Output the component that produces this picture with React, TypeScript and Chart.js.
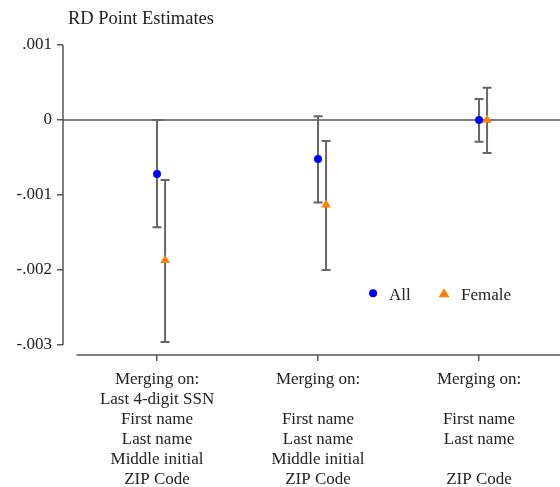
import React, { useEffect, useRef } from "react";
import { Chart, registerables } from "chart.js";
Chart.register(...registerables);

const titleText = "RD Point Estimates";
const categories = [1, 2, 3];
const categoryLabels: string[][] = [
  ["Merging on:", "Last 4-digit SSN", "First name", "Last name", "Middle initial", "ZIP Code"],
  ["Merging on:", "", "First name", "Last name", "Middle initial", "ZIP Code"],
  ["Merging on:", "", "First name", "Last name", "", "ZIP Code"],
];
const allEstimates = [-0.00072, -0.00052, 0.0];
const allLower = [-0.00143, -0.0011, -0.00029];
const allUpper = [0.0, 0.00005, 0.00028];
const femaleEstimates = [-0.00187, -0.00113, 0.0];
const femaleLower = [-0.00296, -0.002, -0.00044];
const femaleUpper = [-0.0008, -0.00028, 0.00043];
const femaleOffset = 0.05;
const yTicks = [-0.003, -0.002, -0.001, 0, 0.001];
const yTickLabels = ["-.003", "-.002", "-.001", "0", ".001"];
const legendLabels = ["All", "Female"];

const FONT = "'Liberation Serif', 'Times New Roman', serif";
const AXIS = "#555555";
const BAR = "#666666";

export default function App() {
  const ref = useRef<HTMLCanvasElement | null>(null);
  useEffect(() => {
    document.body.style.margin = "0";
    const canvas = ref.current!;
    const decor = {
      id: "decor",
      beforeDatasetsDraw(chart: any) {
        const { ctx, chartArea, scales } = chart;
        const xs = scales.x, ys = scales.y;
        ctx.save();
        ctx.strokeStyle = AXIS;
        ctx.lineWidth = 1.5;
        const y0 = ys.getPixelForValue(0);
        ctx.beginPath();
        ctx.moveTo(chartArea.left, y0);
        ctx.lineTo(chartArea.right, y0);
        ctx.stroke();
        // y axis line
        ctx.beginPath();
        ctx.moveTo(chartArea.left, ys.getPixelForValue(yTicks[yTicks.length - 1]));
        ctx.lineTo(chartArea.left, ys.getPixelForValue(yTicks[0]));
        ctx.stroke();
        // x axis line
        ctx.beginPath();
        ctx.moveTo(xs.getPixelForValue(0.5), chartArea.bottom);
        ctx.lineTo(chartArea.right, chartArea.bottom);
        ctx.stroke();
        // error bars
        ctx.strokeStyle = BAR;
        ctx.lineWidth = 2;
        const cap = 4.5;
        const drawBar = (xv: number, lo: number, hi: number) => {
          const px = xs.getPixelForValue(xv);
          const pl = ys.getPixelForValue(lo);
          const ph = ys.getPixelForValue(hi);
          ctx.beginPath();
          ctx.moveTo(px, pl);
          ctx.lineTo(px, ph);
          ctx.moveTo(px - cap, pl);
          ctx.lineTo(px + cap, pl);
          ctx.moveTo(px - cap, ph);
          ctx.lineTo(px + cap, ph);
          ctx.stroke();
        };
        categories.forEach((c, i) => {
          drawBar(c, allLower[i], allUpper[i]);
          drawBar(c + femaleOffset, femaleLower[i], femaleUpper[i]);
        });
        ctx.restore();
      },
      afterDraw(chart: any) {
        const { ctx, chartArea, scales } = chart;
        const xs = scales.x, ys = scales.y;
        ctx.save();
        ctx.fillStyle = "#222";
        ctx.font = `18.5px ${FONT}`;
        ctx.textBaseline = "middle";
        ctx.textAlign = "left";
        ctx.fillText(titleText, chartArea.left + 5, 19);
        // legend
        ctx.font = `17px ${FONT}`;
        const ly = ys.getPixelForValue(-0.00231);
        const lx1 = xs.getPixelForValue(2.342);
        const lx2 = xs.getPixelForValue(2.783);
        ctx.fillStyle = "#0000ff";
        ctx.beginPath();
        ctx.arc(lx1, ly, 4, 0, Math.PI * 2);
        ctx.fill();
        ctx.fillStyle = "#ff8000";
        ctx.beginPath();
        ctx.moveTo(lx2, ly - 5);
        ctx.lineTo(lx2 + 5.5, ly + 4);
        ctx.lineTo(lx2 - 5.5, ly + 4);
        ctx.closePath();
        ctx.fill();
        ctx.fillStyle = "#222";
        ctx.fillText(legendLabels[0], lx1 + 16, ly + 2);
        ctx.fillText(legendLabels[1], lx2 + 17, ly + 2);
        ctx.restore();
      },
    };
    const noPad = (s: any) => {
      s.paddingLeft = 0;
      s.paddingRight = 0;
      s.paddingTop = 0;
      s.paddingBottom = 0;
    };
    const chart = new Chart(canvas, {
      type: "scatter",
      data: {
        datasets: [
          {
            label: legendLabels[0],
            data: categories.map((c, i) => ({ x: c, y: allEstimates[i] })),
            backgroundColor: "#0000ff",
            borderColor: "#0000ff",
            pointStyle: "circle",
            pointRadius: 4,
            borderWidth: 0,
          },
          {
            label: legendLabels[1],
            data: categories.map((c, i) => ({ x: c + femaleOffset, y: femaleEstimates[i] })),
            backgroundColor: "#ff8000",
            borderColor: "#ff8000",
            pointStyle: "triangle",
            pointRadius: 5.5,
            borderWidth: 0,
          },
        ],
      },
      options: {
        animation: false,
        responsive: false,
        events: [],
        layout: { autoPadding: false, padding: { top: 45, right: 0, left: 0, bottom: 0 } },
        plugins: { legend: { display: false }, tooltip: { enabled: false }, title: { display: false } },
        scales: {
          x: {
            type: "linear",
            min: 0.416,
            max: 3.503,
            afterFit: (s: any) => { s.height = 132; noPad(s); },
            afterBuildTicks: (s: any) => { s.ticks = categories.map((v) => ({ value: v })); },
            grid: { display: true, drawOnChartArea: false, drawTicks: true, tickLength: 6, color: AXIS, lineWidth: 1.5 },
            border: { display: false },
            ticks: {
              padding: 9,
              color: "#222",
              font: { family: FONT, size: 17, lineHeight: 20 / 17 },
              maxRotation: 0,
              autoSkip: false,
              callback: (v: any) => {
                const i = categories.indexOf(Number(v));
                return i >= 0 ? categoryLabels[i] : "";
              },
            },
          },
          y: {
            type: "linear",
            min: -0.0031333,
            max: 0.001,
            afterFit: (s: any) => { s.width = 63; noPad(s); },
            afterBuildTicks: (s: any) => { s.ticks = yTicks.map((v) => ({ value: v })); },
            grid: { display: true, drawOnChartArea: false, drawTicks: true, tickLength: 6, color: AXIS, lineWidth: 1.5 },
            border: { display: false },
            ticks: {
              padding: 5,
              color: "#222",
              font: { family: FONT, size: 17 },
              autoSkip: false,
              callback: (v: any) => {
                const i = yTicks.findIndex((t) => Math.abs(t - Number(v)) < 1e-9);
                return i >= 0 ? yTickLabels[i] : "";
              },
            },
          },
        },
      },
      plugins: [decor],
    } as any);
    return () => chart.destroy();
  }, []);
  return (
    <div style={{ width: 560, height: 487, background: "#fff" }}>
      <canvas ref={ref} width={560} height={487} style={{ display: "block" }} />
    </div>
  );
}
